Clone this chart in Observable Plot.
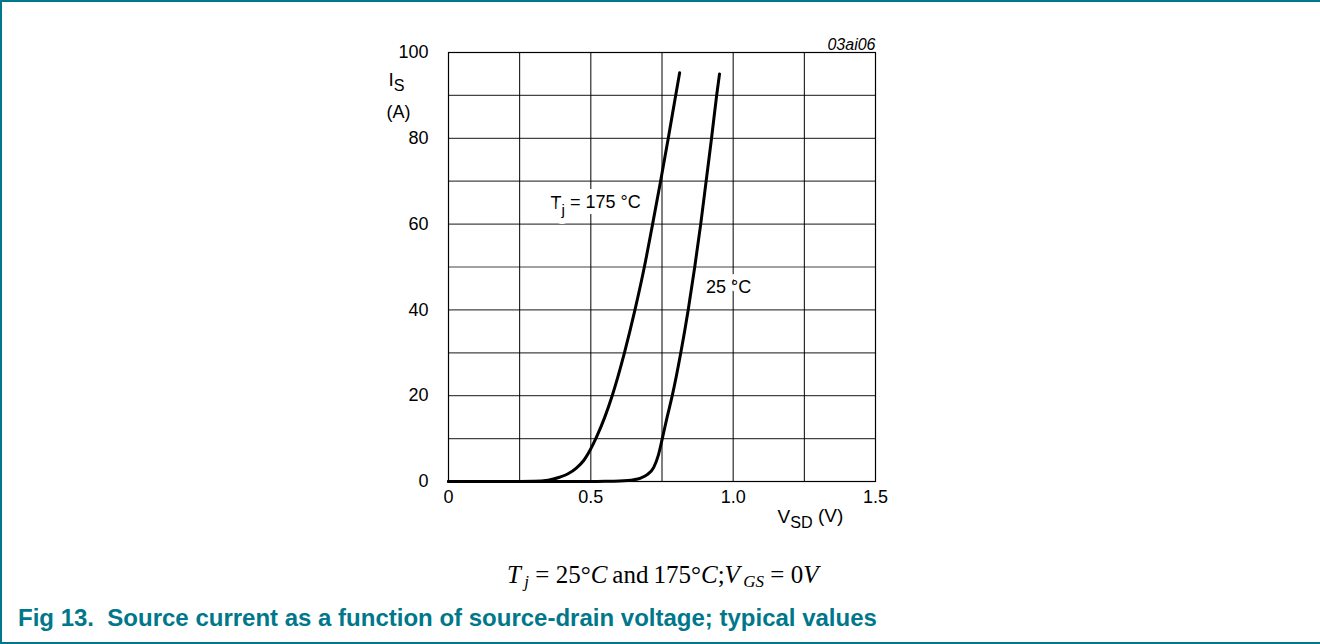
<!DOCTYPE html>
<html>
<head>
<meta charset="utf-8">
<script src="https://cdn.jsdelivr.net/npm/d3@7"></script>
<script src="https://cdn.jsdelivr.net/npm/@observablehq/plot@0.6"></script>
<style>
  html, body { margin: 0; padding: 0; background: #fff; }
  #wrap { position: relative; width: 1320px; height: 644px; overflow: hidden; }
  #border { position: absolute; left: 0; top: 0; width: 1318px; height: 640px;
            border-left: 2px solid #00778B; border-top: 2px solid #00778B; border-bottom: 2px solid #00778B; }
  #chart { position: absolute; left: 0; top: 0; }
  #eq { position: absolute; left: 507px; top: 562px; font-family: "Liberation Serif", "DejaVu Serif", serif;
        font-size: 25px; line-height: 25px; color: #000; white-space: nowrap; }
  #eq sub { font-size: 17px; vertical-align: -4px; }
  #caption { position: absolute; left: 18px; top: 606px; font-family: "Liberation Sans", Arial, sans-serif;
             font-weight: bold; font-size: 24px; line-height: 24px; color: #00778B; white-space: nowrap; }
</style>
</head>
<body>
<div id="wrap">
  <div id="chart"></div>
  <div id="eq"><i>T</i><sub>&thinsp;<i>j</i></sub> = 25°<i>C</i>&thinsp;and&thinsp;175°<i>C</i>;<i>V</i><sub>&thinsp;<i>GS</i></sub> = 0<i>V</i></div>
  <div id="caption">Fig 13.&nbsp;&nbsp;Source current as a function of source-drain voltage; typical values</div>
  <div id="border"></div>
</div>
<script>
// Source-drain voltage (V) and source current (A), Tj = 175 °C
const vsd175 = [0, 0.25, 0.30, 0.35, 0.39, 0.42, 0.45, 0.475, 0.499, 0.521, 0.549, 0.575, 0.618, 0.655, 0.688, 0.717, 0.745, 0.772, 0.798, 0.812];
const is175  = [0, 0.02, 0.05, 0.3, 1.0, 1.8, 3.2, 4.9, 7.5, 10.5, 15, 20, 30, 40, 50, 60, 70, 80, 90, 95.3];
// Tj = 25 °C
const vsd25 = [0, 0.50, 0.55, 0.60, 0.651, 0.675, 0.698, 0.721, 0.737, 0.751, 0.768, 0.786, 0.816, 0.842, 0.865, 0.886, 0.905, 0.924, 0.942, 0.952];
const is25  = [0, 0.01, 0.03, 0.1, 0.4, 0.8, 1.6, 3.3, 6.1, 10, 15, 20, 30, 40, 50, 60, 70, 80, 90, 95];

const xTickValues = [0, 0.5, 1.0, 1.5];
const xTickLabels = ["0", "0.5", "1.0", "1.5"];
const xGridValues = [0.25, 0.5, 0.75, 1.0, 1.25];
const yTickValues = [0, 20, 40, 60, 80, 100];
const yGridValues = [10, 20, 30, 40, 50, 60, 70, 80, 90];

const annotations = [
  {v: 0.517, i: 64.8, label: "Tj = 175 °C"},
  {v: 0.984, i: 45.2, label: "25 °C"}
];
const figureCode = "03ai06";
const yLabelLines = ["IS", "(A)"];
const xLabel = "VSD  (V)";

const curve175 = vsd175.map((v, k) => ({v, i: is175[k]}));
const curve25 = vsd25.map((v, k) => ({v, i: is25[k]}));

const W = 1320, H = 644;
const plot = Plot.plot({
  width: W,
  height: H,
  marginLeft: 448,
  marginRight: W - 875,
  marginTop: 52,
  marginBottom: H - 481,
  style: {fontFamily: "'Liberation Sans', Arial, sans-serif", fontSize: "18px", color: "#000", background: "transparent"},
  x: {domain: [0, 1.5]},
  y: {domain: [0, 100]},
  marks: [
    Plot.gridY(yGridValues, {stroke: "#444", strokeOpacity: 1, strokeWidth: 1.2}),
    Plot.gridX(xGridValues, {stroke: "#000", strokeOpacity: 1, strokeWidth: 1}),
    Plot.frame({stroke: "#000", strokeWidth: 1.2}),
    Plot.line(curve175, {x: "v", y: "i", stroke: "#000", strokeWidth: 3, curve: "monotone-x"}),
    Plot.line(curve25, {x: "v", y: "i", stroke: "#000", strokeWidth: 3, curve: "monotone-x"}),
    Plot.text(annotations, {x: "v", y: "i", text: "label", fill: "#000", stroke: "#fff", strokeWidth: 12,
      paintOrder: "stroke", fontSize: 18}),
    Plot.axisX(xTickValues, {tickSize: 0, tickPadding: 9, tickFormat: (d, k) => xTickLabels[k], label: null, fontSize: 18}),
    Plot.axisY(yTickValues, {tickSize: 0, tickPadding: 20, label: null, fontSize: 18}),
    Plot.text([figureCode], {frameAnchor: "top-right", text: d => d, dy: -8, lineAnchor: "middle",
      textAnchor: "end", fontStyle: "italic", fontSize: 16}),
    Plot.text([yLabelLines[0]], {frameAnchor: "top-left", text: d => d, dx: -60, dy: 27, lineAnchor: "middle",
      textAnchor: "start", fontSize: 19}),
    Plot.text([yLabelLines[1]], {frameAnchor: "top-left", text: d => d, dx: -62, dy: 60, lineAnchor: "middle",
      textAnchor: "start", fontSize: 18}),
    Plot.text([xLabel], {frameAnchor: "bottom-right", text: d => d, dx: -98, dy: 35, lineAnchor: "middle",
      textAnchor: "start", fontSize: 19})
  ]
});
document.getElementById("chart").appendChild(plot);

// subscripts
const subs = {
  "Tj = 175 °C": [["T", 0], ["j", 1], [" = 175 °C", 0]],
  "IS": [["I", 0], ["S", 1]],
  "VSD  (V)": [["V", 0], ["SD", 1], ["\u00a0(V)", 0]]
};
d3.select(plot).selectAll("text").each(function() {
  const t = d3.select(this);
  const parts = subs[this.textContent];
  if (!parts) return;
  t.text(null);
  let prevSub = false;
  parts.forEach(([s, isSub]) => {
    const ts = t.append("tspan").text(s);
    if (isSub && !prevSub) ts.attr("dy", "0.35em").attr("font-size", "0.85em");
    if (!isSub && prevSub) ts.attr("dy", "-0.35em");
    prevSub = !!isSub;
  });
});
</script>
</body>
</html>
